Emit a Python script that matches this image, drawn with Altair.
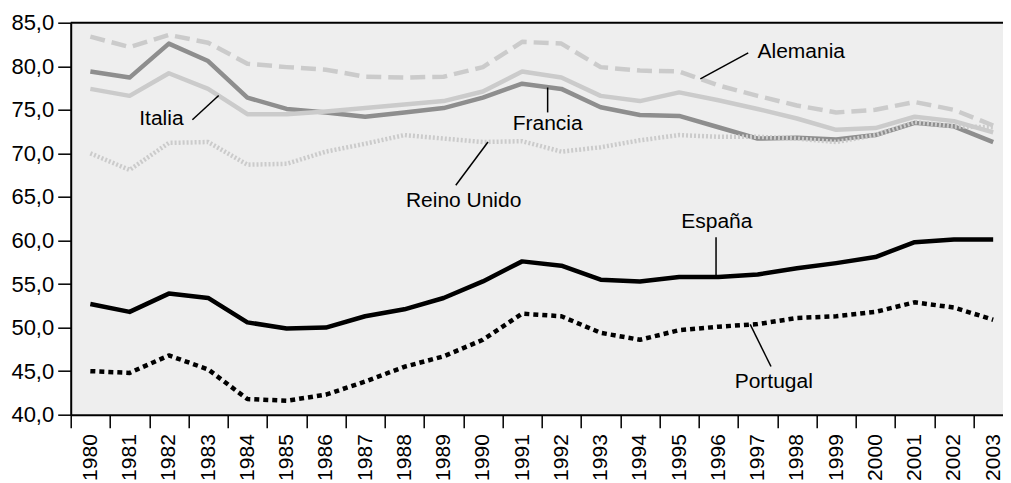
import altair as alt
import pandas as pd

years = list(range(1980, 2004))
alemania = [83.4, 82.2, 83.6, 82.7, 80.3, 79.9, 79.6, 78.8, 78.7, 78.8, 79.9, 82.8,
            82.6, 79.9, 79.5, 79.4, 77.8, 76.6, 75.5, 74.7, 75.0, 75.9, 75.0, 73.2]
francia = [79.4, 78.7, 82.6, 80.6, 76.4, 75.1, 74.7, 74.2, 74.7, 75.2, 76.4, 78.0,
           77.4, 75.3, 74.4, 74.3, 73.0, 71.7, 71.8, 71.6, 72.1, 73.5, 73.1, 71.3]
italia = [77.4, 76.6, 79.2, 77.4, 74.5, 74.5, 74.8, 75.2, 75.6, 76.0, 77.1, 79.4,
          78.7, 76.6, 76.0, 77.0, 76.1, 75.1, 74.0, 72.7, 72.9, 74.2, 73.7, 72.4]
reino_unido = [70.0, 68.1, 71.2, 71.3, 68.7, 68.8, 70.2, 71.1, 72.1, 71.7, 71.3, 71.4,
               70.2, 70.7, 71.5, 72.1, 71.9, 71.9, 71.7, 71.3, 72.1, 73.6, 73.1, 73.0]
espana = [52.7, 51.8, 53.9, 53.4, 50.6, 49.9, 50.0, 51.3, 52.1, 53.4, 55.3, 57.6,
          57.1, 55.5, 55.3, 55.8, 55.8, 56.1, 56.8, 57.4, 58.1, 59.8, 60.1, 60.1]
portugal = [45.0, 44.8, 46.8, 45.2, 41.8, 41.6, 42.3, 43.8, 45.5, 46.7, 48.6, 51.6,
            51.3, 49.4, 48.6, 49.7, 50.1, 50.4, 51.1, 51.3, 51.8, 52.9, 52.3, 50.9]

# annotation labels and leader lines (data coordinates)
label_text = ["Alemania", "Italia", "Francia", "Reino Unido", "España", "Portugal"]
label_x = [1998.11, 1981.81, 1991.65, 1989.51, 1995.96, 1997.41]
label_y = [81.60, 73.97, 73.40, 64.54, 62.13, 43.81]
lead_x1 = [1996.76, 1982.60, 1991.65, 1989.31, 1995.94, 1997.34]
lead_y1 = [81.54, 73.86, 74.70, 66.34, 60.38, 45.53]
lead_x2 = [1995.54, 1983.27, 1991.65, 1990.13, 1995.94, 1996.81]
lead_y2 = [78.56, 76.64, 77.56, 71.30, 55.84, 50.36]

y_ticks = [40, 45, 50, 55, 60, 65, 70, 75, 80, 85]
y_top = 85
x_ticks = [y + d for y in range(1979, 2004) for d in (0.5, 1.0)]
x_ticks = [v for v in x_ticks if 1979.5 <= v <= 2003.5]

FONT = "Liberation Sans"
LIGHT = "#cbcbcb"
DARK = "#8e8e8e"

series = [
    ("Francia", francia, DARK, None),
    ("Italia", italia, LIGHT, None),
    ("Reino Unido", reino_unido, LIGHT, [2, 2]),
    ("Alemania", alemania, LIGHT, [15, 7]),
    ("España", espana, "black", None),
    ("Portugal", portugal, "black", [5, 4]),
]

x_scale = alt.Scale(domain=[1979.5, 2003.25], nice=False, zero=False)
y_scale = alt.Scale(domain=[40, 85], nice=False, zero=False)

x_axis = alt.Axis(
    values=x_ticks, title=None, grid=False, labelAngle=270, labelFontSize=21,
    labelFont=FONT, labelColor="black", labelPadding=6, labelOverlap=False,
    labelExpr="datum.value % 1 == 0 ? format(datum.value, 'd') : ''",
    tickSize=13, tickColor="black", tickWidth=1.5,
    tickOpacity={"condition": {"test": "datum.value % 1 == 0", "value": 0}, "value": 1},
    domainColor="black", domainWidth=2,
)
y_axis = alt.Axis(
    values=y_ticks, title=None, grid=False, labelFontSize=22, labelFont=FONT,
    labelColor="black", labelPadding=4,
    labelExpr="replace(format(datum.value, '.1f'), '.', ',')",
    tickSize=13, tickColor="black", tickWidth=1.5,
    domainColor="black", domainWidth=2,
)

layers = []
for name, vals, color, dash in series:
    df = pd.DataFrame({"year": years, "value": vals, "country": name})
    kw = dict(color=color, strokeWidth=4.5, strokeJoin="round", clip=True)
    if dash:
        kw["strokeDash"] = dash
        kw["strokeCap"] = "butt"
    layers.append(alt.Chart(df).mark_line(**kw).encode(
        x=alt.X("year:Q", scale=x_scale, axis=x_axis),
        y=alt.Y("value:Q", scale=y_scale, axis=y_axis),
    ))

# top frame line at the top of the value axis
top_df = pd.DataFrame({"v": [y_top]})
top_rule = alt.Chart(top_df).mark_rule(color="black", strokeWidth=2).encode(
    y=alt.Y("v:Q", scale=y_scale, axis=y_axis),
)

lead_df = pd.DataFrame({"x1": lead_x1, "y1": lead_y1, "x2": lead_x2, "y2": lead_y2})
leads = alt.Chart(lead_df).mark_rule(color="black", strokeWidth=1.5).encode(
    x=alt.X("x1:Q", scale=x_scale, axis=x_axis),
    y=alt.Y("y1:Q", scale=y_scale, axis=y_axis),
    x2="x2:Q", y2="y2:Q",
)

lab_df = pd.DataFrame({"text": label_text, "x": label_x, "y": label_y})
labels = alt.Chart(lab_df).mark_text(
    font=FONT, fontSize=21, color="black", align="center", baseline="middle"
).encode(
    x=alt.X("x:Q", scale=x_scale, axis=x_axis),
    y=alt.Y("y:Q", scale=y_scale, axis=y_axis),
    text="text:N",
)

chart = alt.layer(*layers, top_rule, leads, labels).properties(
    width=932.3, height=392,
    autosize=alt.AutoSizeParams(type="none"),
    padding={"left": 62.7, "top": 14.7, "right": 0, "bottom": 80},
).configure(background="white").configure_view(
    fill="#eeeeee", stroke=None
)

chart.save("out.html", embed_options={"renderer": "svg", "actions": False})
